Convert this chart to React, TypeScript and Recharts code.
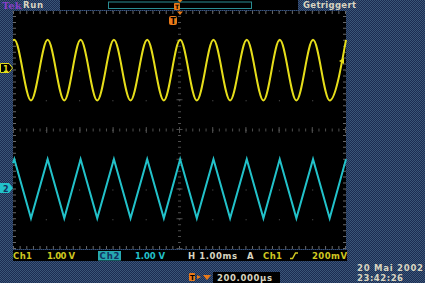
import { LineChart, Line, XAxis, YAxis, CartesianGrid, ReferenceLine } from 'recharts';

// time in divisions (1 div = 1.00 ms), values in screen divisions
const times = [0, 0.04, 0.54, 1.04, 1.54, 2.03, 2.53, 3.03, 3.53, 4.03, 4.53, 5.02, 5.52, 6.02, 6.52, 7.02, 7.52, 8.01, 8.51, 9.01, 9.51, 10.0];
const ch1Volts = [3.02, 3.03, 0.99, 3.03, 0.99, 3.03, 0.99, 3.03, 0.99, 3.03, 0.99, 3.03, 0.99, 3.03, 0.99, 3.03, 0.99, 3.03, 0.99, 3.03, 0.99, 3.03];
const ch2Volts = [-1.12, -0.98, -2.97, -0.98, -2.97, -0.98, -2.97, -0.98, -2.97, -0.98, -2.97, -0.98, -2.97, -0.98, -2.97, -0.98, -2.97, -0.98, -2.97, -0.98, -2.97, -0.98];
const xTicks = [0, 1, 2, 3, 4, 5, 6, 7, 8, 9, 10];
const yTicks = [-4, -3, -2, -1, 0, 1, 2, 3, 4];

const data = times.map((t, i) => ({ t, ch1: ch1Volts[i], ch2: ch2Volts[i] }));

const YELLOW = '#e6de1a';
const CYAN = '#22c2ca';
const ORANGE = '#e87a18';
const PALE = '#d8d4c0';
const TICK = '#686868';
const CENTER = '#4e4e4e';
const font = { fontFamily: '"DejaVu Sans", sans-serif', fontWeight: 'bold' as const, fontSize: 8.5 };

export default function App() {
  return (
    <div
      style={{
        position: 'absolute',
        left: 0,
        top: 0,
        width: 425,
        height: 283,
        overflow: 'hidden',
        background: 'repeating-conic-gradient(#1c2c52 0% 25%, #3a5678 0% 50%) 0 0 / 2px 2px',
      }}
    >
      <div style={{ position: 'absolute', left: 0, top: 0 }}>
        <LineChart width={425} height={283} data={data} margin={{ top: 11, right: 79, bottom: 34, left: 13 }}>
          <XAxis type="number" dataKey="t" domain={[0, 10]} ticks={xTicks} hide />
          <YAxis type="number" domain={[-4, 4]} ticks={yTicks} hide />
          <CartesianGrid fill="#000" horizontal={false} stroke="#5a5a5a" strokeDasharray="1 28.75" />
          <ReferenceLine y={3.95} stroke={TICK} strokeWidth={3} strokeDasharray="1 5.64" />
          <ReferenceLine y={-3.95} stroke={TICK} strokeWidth={3} strokeDasharray="1 5.64" />
          <ReferenceLine x={0.045} stroke={TICK} strokeWidth={3} strokeDasharray="1 4.95" />
          <ReferenceLine x={9.955} stroke={TICK} strokeWidth={3} strokeDasharray="1 4.95" />
          <ReferenceLine y={0} stroke={CENTER} strokeWidth={3} strokeDasharray="1 5.64" />
          <ReferenceLine y={0} stroke={CENTER} strokeWidth={6} strokeDasharray="1 32.2" />
          <ReferenceLine x={5} stroke={CENTER} strokeWidth={3} strokeDasharray="1 4.95" />
          <ReferenceLine x={5} stroke={CENTER} strokeWidth={6} strokeDasharray="1 28.75" />
          <Line type="monotone" dataKey="ch1" stroke={YELLOW} strokeWidth={2} dot={false} isAnimationActive={false} />
          <Line type="linear" dataKey="ch2" stroke={CYAN} strokeWidth={2} dot={false} isAnimationActive={false} />
        </LineChart>
      </div>
      <svg width={425} height={283} style={{ position: 'absolute', left: 0, top: 0, pointerEvents: 'none' }}>
        {/* top bar */}
        <text x={2} y={8.5} fill="#8440c8" fontFamily='"DejaVu Serif", serif' fontWeight="bold" fontSize={10}>Tek</text>
        <text x={23} y={7.8} fill={PALE} {...font} textLength={20}>Run</text>
        <rect x={60} y={0} width={238} height={10} fill="#000" />
        <rect x={108.5} y={2} width={143} height={6.5} fill="none" stroke="#2a8c92" strokeWidth={1} />
        <polygon points="177.5,0 182.5,0 180,2.5" fill={ORANGE} />
        <rect x={174} y={3} width={6} height={7} rx={1} fill={ORANGE} />
        <text x={175} y={9} fill="#000" fontSize={6} fontWeight="bold" fontFamily="DejaVu Sans">T</text>
        <text x={303} y={8.3} fill={PALE} {...font} textLength={53}>Getriggert</text>

        {/* trigger position marker */}
        <polygon points="177,11.5 183,11.5 180,15" fill={ORANGE} />
        <rect x={169} y={16} width={8} height={9} rx={2} fill={ORANGE} />
        <text x={170.5} y={23.5} fill="#000" fontSize={8} fontWeight="bold" fontFamily="DejaVu Sans">T</text>

        {/* channel ground markers */}
        <polygon points="0.5,63.5 9,63.5 12.5,68 9,72.5 0.5,72.5" fill="#000" stroke={YELLOW} strokeWidth={1} />
        <text x={3} y={71.5} fill={YELLOW} fontSize={8} fontWeight="bold" fontFamily="DejaVu Sans">1</text>
        <polygon points="0,183 9,183 13,188 9,193 0,193" fill={CYAN} />
        <text x={3} y={191.5} fill="#123060" fontSize={8} fontWeight="bold" fontFamily="DejaVu Sans">2</text>

        {/* trigger level */}
        <polygon points="339,61 344,58 344,64" fill={YELLOW} />

        {/* status strip */}
        <rect x={13} y={250} width={334} height={11} fill="#000" />
        <text x={13} y={259} fill="#d0c820" {...font} textLength={19}>Ch1</text>
        <text x={47} y={259} fill="#d0c820" {...font} textLength={28}>1.00 V</text>
        <rect x={98} y={251} width={23} height={9.5} fill="#26a8b0" />
        <text x={99.5} y={259} fill="#123060" {...font} textLength={20}>Ch2</text>
        <text x={135} y={259} fill={CYAN} {...font} textLength={30}>1.00 V</text>
        <text x={188} y={259} fill={PALE} {...font} textLength={49}>H 1.00ms</text>
        <text x={247} y={259} fill={PALE} {...font}>A</text>
        <text x={263} y={259} fill="#d0c820" {...font} textLength={19}>Ch1</text>
        <polyline points="290,258.5 292.5,258.5 295.5,253 298,253" fill="none" stroke="#d0c820" strokeWidth={1.5} />
        <text x={312} y={259} fill="#d0c820" {...font} textLength={35}>200mV</text>

        {/* bottom */}
        <rect x={189} y={273} width={6} height={8} rx={1} fill={ORANGE} />
        <text x={190} y={280} fill="#000" fontSize={7} fontWeight="bold" fontFamily="DejaVu Sans">T</text>
        <polygon points="197,275 201,277 197,279" fill={ORANGE} />
        <polygon points="203,275 211,275 207,280" fill={ORANGE} />
        <rect x={213} y={272} width={67} height={11} fill="#000" />
        <text x={217} y={280.5} fill={PALE} {...font} textLength={55}>200.000µs</text>
        <text x={357} y={270.5} fill={PALE} {...font} textLength={66}>20 Mai  2002</text>
        <text x={357} y={280.5} fill={PALE} {...font} textLength={46}>23:42:26</text>
      </svg>
    </div>
  );
}
